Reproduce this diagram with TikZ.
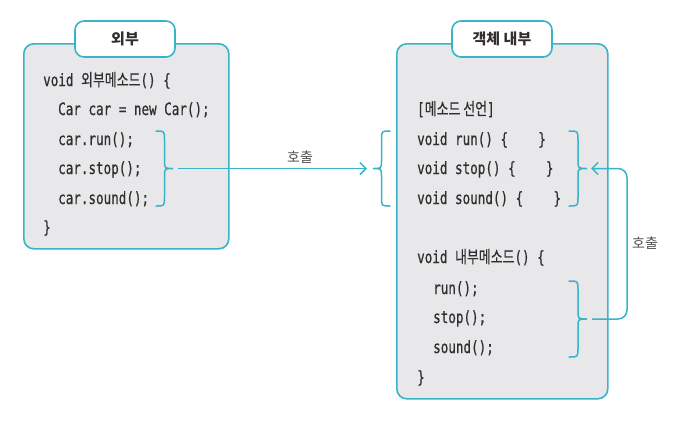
\documentclass[tikz,border=0pt]{standalone}
\usepackage{fontspec}
\usetikzlibrary{arrows.meta}
\newfontfamily\codefont[FakeStretch=0.74,FakeBold=0.6]{DejaVu Sans Mono}
\newfontfamily\kr[FakeStretch=0.76,FakeBold=0.5]{Noto Sans CJK KR}
\newfontfamily\krtitle{Noto Sans CJK KR}
\definecolor{teal1}{HTML}{38B4C8}
\definecolor{boxgray}{HTML}{E8E8EA}
\definecolor{ink}{HTML}{332E2E}
\newcommand\mybrace[5]{%
  \pgfmathsetmacro\bxm{(#2+#3)/2}%
  \pgfmathsetmacro\bym{(#4+#5)/2}%
  \draw[brc] (#2,#4) .. controls (\bxm,#4) .. (\bxm,#4+9) -- (\bxm,\bym-8)
    .. controls (\bxm,\bym) .. (#3,\bym) .. controls (\bxm,\bym) .. (\bxm,\bym+8)
    -- (\bxm,#5-9) .. controls (\bxm,#5) .. (#2,#5);
  \coordinate (#1) at (#3,\bym);
}
\tikzset{
  box/.style={draw=teal1, line width=1.6pt, fill=boxgray, rounded corners=10pt, inner sep=0pt},
  tab/.style={draw=teal1, line width=1.6pt, fill=white, rounded corners=9pt, minimum width=100pt, minimum height=36pt, inner sep=0pt, text=ink, font=\krtitle\bfseries\fontsize{15}{17}\selectfont},
  code/.style={anchor=base west, inner sep=0pt, text=ink, font=\codefont\fontsize{17}{20}\selectfont},
  brc/.style={draw=teal1, line width=1.5pt, line cap=round},
  conn/.style={draw=teal1, line width=1.5pt},
  lbl/.style={text=ink!85, inner sep=0pt, font=\krtitle\fontsize{14}{16}\selectfont},
  tip/.style={-{Straight Barb[length=6pt,width=12pt,line width=1.5pt]}}
}
\begin{document}
\begin{tikzpicture}[x=1pt,y=-1pt]
\useasboundingbox (0,0) rectangle (675,421);
% boxes
\node[box, anchor=north west, minimum width=205pt, minimum height=205pt] (lbox) at (23,43) {};
\node[box, anchor=north west, minimum width=211pt, minimum height=355pt] (rbox) at (396,43) {};
\node[tab] (ltab) at (125,39) {외부};
\node[tab] (rtab) at (502,39) {객체 내부};
% left code
\node[code] (l1) at (43,86) {void {\kr 외부메소드}() \{};
\node[code] (l2) at (58,115) {Car car = new Car();};
\node[code] (l3) at (58,145) {car.run();};
\node[code] (l4) at (58,174) {car.stop();};
\node[code] (l5) at (58,204) {car.sound();};
\node[code] (l6) at (43,233) {\}};
% right code
\node[code] (r1) at (417,115) {[{\kr 메소드 선언}]};
\node[code] (r2) at (417,145) {void run() \{\ \ \ \ \}};
\node[code] (r3) at (417,174) {void stop() \{\ \ \ \ \}};
\node[code] (r4) at (417,204) {void sound() \{\ \ \ \ \}};
\node[code] (r5) at (417,263) {void {\kr 내부메소드}() \{};
\node[code] (r6) at (433,294) {run();};
\node[code] (r7) at (433,323) {stop();};
\node[code] (r8) at (433,353) {sound();};
\node[code] (r9) at (417,383) {\}};
% braces
\mybrace{b1}{156}{173}{131}{206}
\mybrace{b2}{390}{373}{131}{206}
\mybrace{b3}{569}{587}{131}{206}
\mybrace{b4}{569}{587}{281}{357}
% connectors
\draw[conn, tip] ([xshift=5pt]b1) -- ([xshift=-6pt]b2);
\node[lbl] (call1) at (300,157) {호출};
\draw[conn, tip, rounded corners=9pt] ([xshift=5pt]b4) -| ([xshift=40pt]b3) -- ([xshift=4pt]b3);
\node[lbl] (call2) at (645,243) {호출};
\end{tikzpicture}
\end{document}
